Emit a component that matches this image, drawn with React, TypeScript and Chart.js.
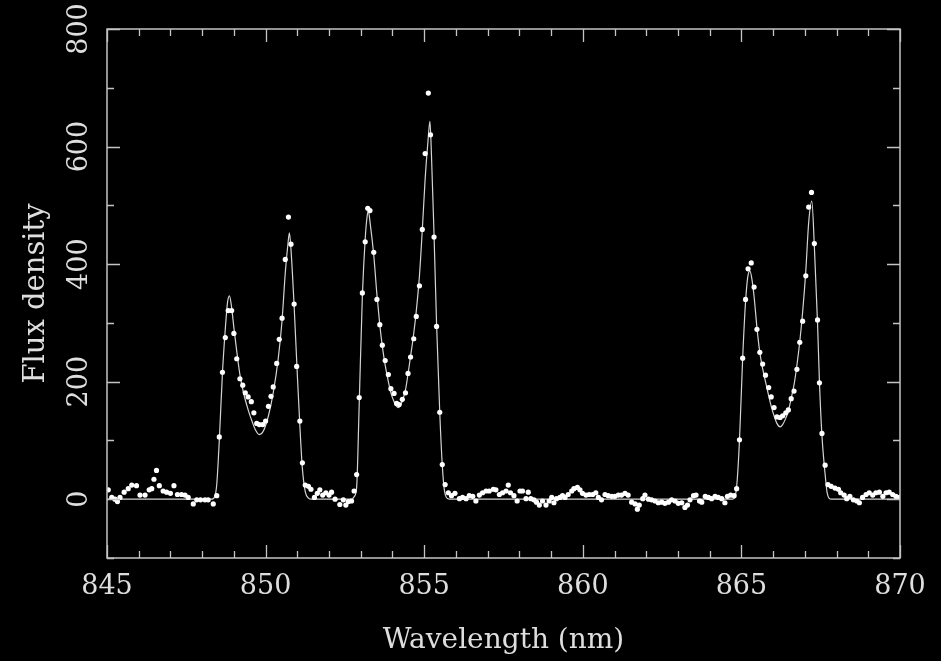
import React, { useEffect, useRef } from 'react';
import { Chart, registerables } from 'chart.js';

Chart.register(...registerables);

// ---- data ----
const OBS_WAVE = [
  845.04, 845.15, 845.25, 845.33, 845.41, 845.54, 845.67, 845.78, 845.93, 846.04,
  846.2, 846.33, 846.41, 846.48, 846.56, 846.65, 846.77, 846.88, 847.0, 847.11,
  847.22, 847.35, 847.46, 847.56, 847.72, 847.83, 847.95, 848.09, 848.19, 848.35,
  848.46, 848.54, 848.64, 848.73, 848.82, 848.93, 849.0, 849.09, 849.19, 849.28,
  849.36, 849.45, 849.55, 849.63, 849.72, 849.8, 849.91, 850.0, 850.09, 850.17,
  850.24, 850.35, 850.43, 850.52, 850.62, 850.72, 850.8, 850.9, 850.98, 851.08,
  851.16, 851.25, 851.35, 851.43, 851.54, 851.63, 851.71, 851.8, 851.9, 852.0,
  852.08, 852.19, 852.34, 852.45, 852.53, 852.61, 852.71, 852.79, 852.87, 852.95,
  853.05, 853.14, 853.22, 853.29, 853.41, 853.51, 853.6, 853.68, 853.77, 853.87,
  853.95, 854.05, 854.13, 854.21, 854.31, 854.41, 854.49, 854.57, 854.67, 854.75,
  854.85, 854.94, 855.03, 855.13, 855.2, 855.31, 855.39, 855.49, 855.57, 855.66,
  855.76, 855.86, 855.97, 856.11, 856.21, 856.32, 856.42, 856.53, 856.63, 856.74,
  856.84, 856.95, 857.05, 857.18, 857.26, 857.37, 857.47, 857.58, 857.65, 857.72,
  857.83, 857.93, 858.02, 858.1, 858.21, 858.28, 858.36, 858.46, 858.54, 858.63,
  858.73, 858.84, 858.94, 859.02, 859.09, 859.17, 859.28, 859.36, 859.44, 859.54,
  859.65, 859.72, 859.83, 859.91, 859.99, 860.1, 860.2, 860.31, 860.41, 860.49,
  860.59, 860.7, 860.8, 860.91, 861.01, 861.12, 861.22, 861.33, 861.43, 861.54,
  861.65, 861.72, 861.78, 861.89, 861.96, 862.07, 862.17, 862.28, 862.38, 862.49,
  862.59, 862.7, 862.8, 862.91, 863.01, 863.12, 863.22, 863.3, 863.38, 863.49,
  863.57, 863.68, 863.75, 863.86, 863.96, 864.06, 864.17, 864.27, 864.38, 864.48,
  864.56, 864.66, 864.77, 864.85, 864.94, 865.04, 865.13, 865.21, 865.31, 865.4,
  865.49, 865.58, 865.67, 865.76, 865.86, 865.94, 866.03, 866.12, 866.22, 866.3,
  866.4, 866.48, 866.57, 866.66, 866.75, 866.84, 866.93, 867.03, 867.12, 867.21,
  867.3, 867.4, 867.46, 867.54, 867.64, 867.73, 867.83, 867.95, 868.06, 868.13,
  868.24, 868.32, 868.42, 868.53, 868.64, 868.72, 868.82, 868.93, 869.03, 869.14,
  869.24, 869.35, 869.46, 869.56, 869.66, 869.77, 869.87, 869.98,
];
const OBS_FLUX = [
  16, 3, 0, -4, 3, 12, 18, 24, 23, 7,
  7, 16, 18, 34, 49, 23, 14, 12, 10, 23,
  8, 8, 7, 3, -8, -1, -1, -1, -1, -8,
  6, 106, 216, 275, 321, 321, 282, 239, 205, 194,
  181, 174, 166, 147, 129, 127, 127, 133, 158, 175,
  191, 231, 272, 308, 408, 480, 434, 332, 226, 133,
  62, 24, 22, 17, 3, 10, 16, 7, 11, 7,
  12, 0, -9, -1, -10, -4, -3, 14, 42, 173,
  351, 438, 495, 491, 420, 340, 297, 262, 236, 212,
  188, 180, 163, 161, 170, 181, 214, 242, 273, 311,
  363, 459, 588, 691, 620, 446, 294, 148, 59, 25,
  11, 6, 10, 1, 3, 1, 6, 5, -3, 7,
  11, 14, 14, 17, 16, 8, 11, 14, 24, 11,
  6, -3, 14, 14, 1, 12, 1, -1, -5, -10,
  -3, -10, -3, 3, -6, 1, 3, 6, 3, 8,
  14, 18, 20, 16, 10, 7, 8, 8, 11, 3,
  -1, 8, 6, 5, 5, 7, 7, 10, 7, -5,
  -8, -17, -10, 1, 7, 0, -1, -3, -6, -5,
  -7, -5, -1, -3, -7, -6, -14, -10, -1, 6,
  7, -3, -5, 5, 3, 1, 5, 3, 1, -6,
  5, 7, 6, 18, 101, 240, 340, 392, 402, 361,
  289, 250, 230, 211, 190, 174, 156, 140, 139, 142,
  147, 152, 171, 184, 221, 267, 303, 380, 497, 522,
  435, 305, 198, 112, 58, 25, 22, 19, 17, 11,
  7, 1, 5, -1, -3, -6, 3, 8, 11, 7,
  11, 12, 5, 11, 12, 8, 5, 3,
];

const FIT_WAVE = [
  845.0, 848.3, 848.4, 848.46, 848.54, 848.64, 848.73, 848.8, 848.86, 848.92,
  849.0, 849.09, 849.19, 849.3, 849.45, 849.55, 849.67, 849.8, 849.93, 850.09,
  850.24, 850.4, 850.52, 850.62, 850.7, 850.75, 850.8, 850.9, 851.0, 851.08,
  851.16, 851.25, 851.35, 851.45, 852.72, 852.8, 852.87, 852.95, 853.05, 853.14,
  853.2, 853.24, 853.3, 853.41, 853.51, 853.6, 853.68, 853.77, 853.87, 853.95,
  854.05, 854.13, 854.18, 854.23, 854.31, 854.41, 854.49, 854.57, 854.67, 854.75,
  854.85, 854.94, 855.03, 855.12, 855.18, 855.22, 855.31, 855.39, 855.49, 855.57,
  855.63, 855.7, 855.8, 864.72, 864.8, 864.87, 864.94, 865.04, 865.13, 865.2,
  865.27, 865.33, 865.4, 865.49, 865.58, 865.67, 865.76, 865.86, 865.94, 866.03,
  866.12, 866.22, 866.3, 866.4, 866.48, 866.57, 866.66, 866.75, 866.84, 866.93,
  867.03, 867.12, 867.22, 867.3, 867.4, 867.46, 867.54, 867.64, 867.7, 867.76,
  867.85, 870.0,
];
const FIT_FLUX = [
  0, 0, 5, 25, 100, 215, 290, 335, 346, 330,
  292, 252, 212, 182, 152, 136, 119, 110, 116, 142,
  181, 240, 305, 385, 432, 453, 425, 328, 212, 125,
  52, 13, 2, 0, 0, 5, 20, 160, 345, 443,
  481, 490, 468, 415, 348, 297, 260, 228, 200, 181,
  166, 158, 156, 158, 167, 186, 213, 243, 282, 320,
  380, 458, 545, 610, 643, 600, 450, 298, 148, 58,
  18, 3, 0, 0, 4, 34, 101, 240, 335, 378,
  388, 375, 345, 292, 250, 222, 200, 176, 158, 142,
  129, 123, 127, 138, 150, 172, 195, 228, 268, 318,
  388, 470, 507, 430, 300, 200, 108, 42, 12, 2,
  0, 0,
];

const X_RANGE = [845, 870];
const Y_RANGE = [-100, 800];
const X_TICKS = [845, 850, 855, 860, 865, 870];
const Y_TICKS = [0, 200, 400, 600, 800];
const X_MINOR_STEP = 1;
const Y_MINOR_STEP = 100;
const X_TITLE = 'Wavelength (nm)';
const Y_TITLE = 'Flux density';

// ---- style ----
const FONT = "'DejaVu Serif', serif";
const TEXT = '#dedede';
const AXIS = '#c4c4c4';

const framePlugin = {
  id: 'pgframe',
  afterDatasetsDraw(chart: any) {
    const { ctx, chartArea: a, scales } = chart;
    const xs = scales.x;
    const ys = scales.y;
    ctx.save();
    ctx.strokeStyle = AXIS;
    ctx.lineWidth = 1.5;
    ctx.strokeRect(a.left, a.top, a.right - a.left, a.bottom - a.top);
    ctx.beginPath();
    for (let v = X_RANGE[0]; v <= X_RANGE[1] + 1e-9; v += X_MINOR_STEP) {
      const px = Math.round(xs.getPixelForValue(v)) + 0.5;
      const len = X_TICKS.some((t) => Math.abs(t - v) < 1e-6) ? 13 : 7;
      ctx.moveTo(px, a.bottom);
      ctx.lineTo(px, a.bottom - len);
      ctx.moveTo(px, a.top);
      ctx.lineTo(px, a.top + len);
    }
    for (let v = Y_RANGE[0]; v <= Y_RANGE[1] + 1e-9; v += Y_MINOR_STEP) {
      const py = Math.round(ys.getPixelForValue(v)) + 0.5;
      const len = Y_TICKS.some((t) => Math.abs(t - v) < 1e-6) ? 13 : 7;
      ctx.moveTo(a.left, py);
      ctx.lineTo(a.left + len, py);
      ctx.moveTo(a.right, py);
      ctx.lineTo(a.right - len, py);
    }
    ctx.lineWidth = 1.3;
    ctx.stroke();
    ctx.restore();
  },
};

export default function App() {
  const ref = useRef<HTMLCanvasElement | null>(null);

  useEffect(() => {
    if (!ref.current) return;
    const obs = OBS_WAVE.map((w, i) => ({ x: w, y: OBS_FLUX[i] }));
    const fit = FIT_WAVE.map((w, i) => ({ x: w, y: FIT_FLUX[i] }));
    const chart = new Chart(ref.current, {
      type: 'scatter',
      data: {
        datasets: [
          {
            label: 'Observed',
            data: obs,
            pointRadius: 2.6,
            pointHoverRadius: 2.6,
            pointBackgroundColor: '#ffffff',
            pointBorderWidth: 0,
            showLine: false,
          },
          {
            label: 'Fit',
            data: fit,
            showLine: true,
            borderColor: '#d4d4d4',
            borderWidth: 1.2,
            pointRadius: 0,
            cubicInterpolationMode: 'monotone',
            fill: false,
          },
        ],
      },
      options: {
        animation: false,
        responsive: false,
        events: [],
        layout: { padding: { top: 29, right: 41, left: 0, bottom: 0 } },
        plugins: { legend: { display: false }, tooltip: { enabled: false } },
        scales: {
          x: {
            type: 'linear',
            min: X_RANGE[0],
            max: X_RANGE[1],
            grid: { display: false },
            border: { display: false },
            afterBuildTicks: (s: any) => {
              s.ticks = X_TICKS.map((v) => ({ value: v }));
            },
            afterFit: (s: any) => {
              s.height = 103;
            },
            ticks: {
              color: TEXT,
              font: { family: FONT, size: 27 },
              padding: 5,
              maxRotation: 0,
              callback: (v: any) => String(v),
            },
            title: {
              display: true,
              text: X_TITLE,
              color: TEXT,
              font: { family: FONT, size: 28 },
              padding: { top: 0, bottom: 3 },
            },
          },
          y: {
            type: 'linear',
            min: Y_RANGE[0],
            max: Y_RANGE[1],
            grid: { display: false },
            border: { display: false },
            afterBuildTicks: (s: any) => {
              s.ticks = Y_TICKS.map((v) => ({ value: v }));
            },
            afterFit: (s: any) => {
              s.width = 107;
            },
            ticks: {
              color: TEXT,
              font: { family: FONT, size: 27 },
              padding: -7,
              minRotation: 90,
              maxRotation: 90,
              crossAlign: 'center',
              callback: (v: any) => String(v),
            },
            title: {
              display: true,
              text: Y_TITLE,
              color: TEXT,
              font: { family: FONT, size: 29 },
              padding: { top: 19, bottom: 0 },
            },
          },
        },
      },
      plugins: [framePlugin],
    } as any);
    return () => chart.destroy();
  }, []);

  return (
    <div
      style={{
        position: 'fixed',
        left: 0,
        top: 0,
        width: 941,
        height: 661,
        background: '#000',
      }}
    >
      <canvas ref={ref} width={941} height={661} style={{ display: 'block' }} />
    </div>
  );
}
